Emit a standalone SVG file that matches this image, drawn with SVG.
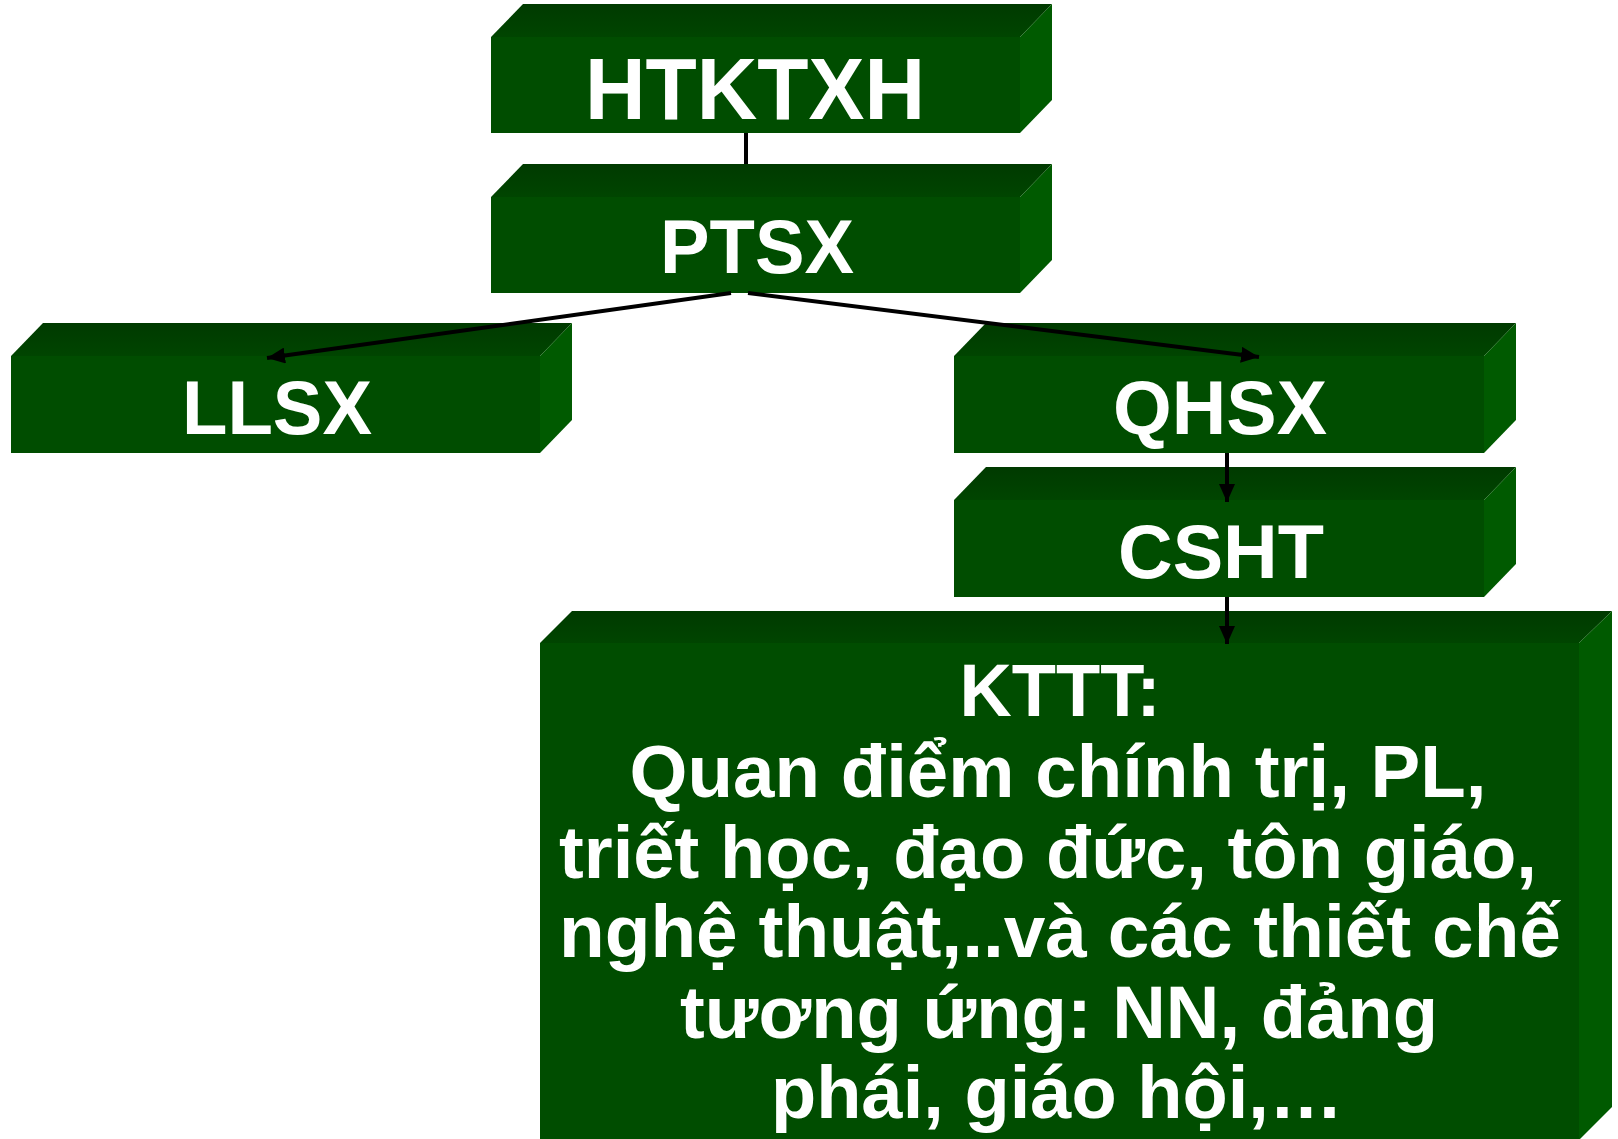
<svg xmlns="http://www.w3.org/2000/svg" width="1618" height="1139" viewBox="0 0 1618 1139">
  <defs>
    <linearGradient id="topFace" x1="0" y1="0" x2="0" y2="1">
      <stop offset="0" stop-color="#003a00"/>
      <stop offset="1" stop-color="#004500"/>
    </linearGradient>
    <marker id="arrow" markerUnits="userSpaceOnUse" markerWidth="18" markerHeight="16" refX="18" refY="8" orient="auto">
      <path d="M0,0 L18,8 L0,16 z" fill="#000"/>
    </marker>
  </defs>
  <style>
    .front { fill: #004d00; }
    .top { fill: url(#topFace); }
    .side { fill: #005a00; }
    .label { font-family: "Liberation Sans", Arial, sans-serif; font-weight: bold; fill: #fff; text-anchor: middle; }
    .big { font-size: 88px; }
    .mid { font-size: 76px; }
    .body { font-size: 75px; }
    .link { stroke: #000; stroke-width: 4; fill: none; }
  </style>

  <rect width="1618" height="1139" fill="#fff"/>

  <!-- HTKTXH -->
  <g id="node-htktxh">
    <polygon class="top" points="491,37 523,4 1052,4 1020,37"/>
    <polygon class="side" points="1020,37 1052,4 1052,100 1020,133"/>
    <rect class="front" x="491" y="37" width="529" height="96"/>
    <text class="label big" x="755" y="119" textLength="340" lengthAdjust="spacingAndGlyphs">HTKTXH</text>
  </g>

  <!-- PTSX -->
  <g id="node-ptsx">
    <polygon class="top" points="491,197 523,164 1052,164 1020,197"/>
    <polygon class="side" points="1020,197 1052,164 1052,260 1020,293"/>
    <rect class="front" x="491" y="197" width="529" height="96"/>
    <text class="label mid" x="757" y="273" textLength="194" lengthAdjust="spacingAndGlyphs">PTSX</text>
  </g>

  <!-- LLSX -->
  <g id="node-llsx">
    <polygon class="top" points="11,356 43,323 572,323 540,356"/>
    <polygon class="side" points="540,356 572,323 572,420 540,453"/>
    <rect class="front" x="11" y="356" width="529" height="97"/>
    <text class="label mid" x="277" y="434" textLength="190" lengthAdjust="spacingAndGlyphs">LLSX</text>
  </g>

  <!-- QHSX -->
  <g id="node-qhsx">
    <polygon class="top" points="954,356 986,323 1516,323 1484,356"/>
    <polygon class="side" points="1484,356 1516,323 1516,420 1484,453"/>
    <rect class="front" x="954" y="356" width="530" height="97"/>
    <text class="label mid" x="1220" y="434" textLength="214" lengthAdjust="spacingAndGlyphs">QHSX</text>
  </g>

  <!-- CSHT -->
  <g id="node-csht">
    <polygon class="top" points="954,500 986,467 1516,467 1484,500"/>
    <polygon class="side" points="1484,500 1516,467 1516,564 1484,597"/>
    <rect class="front" x="954" y="500" width="530" height="97"/>
    <text class="label mid" x="1221" y="578" textLength="206" lengthAdjust="spacingAndGlyphs">CSHT</text>
  </g>

  <!-- KTTT -->
  <g id="node-kttt">
    <polygon class="top" points="540,643 572,611 1612,611 1579,643"/>
    <polygon class="side" points="1579,643 1612,611 1612,1107 1579,1140"/>
    <rect class="front" x="540" y="643" width="1039" height="497"/>
    <text class="label body" x="1060" y="716" textLength="201" lengthAdjust="spacingAndGlyphs">KTTT:</text>
    <text class="label body" x="1058" y="797" textLength="857" lengthAdjust="spacingAndGlyphs">Quan điểm chính trị, PL,</text>
    <text class="label body" x="1048" y="878" textLength="978" lengthAdjust="spacingAndGlyphs">triết học, đạo đức, tôn giáo,</text>
    <text class="label body" x="1060" y="957" textLength="1002" lengthAdjust="spacingAndGlyphs">nghệ thuật,..và các thiết chế</text>
    <text class="label body" x="1059" y="1038" textLength="758" lengthAdjust="spacingAndGlyphs">tương ứng: NN, đảng</text>
    <text class="label body" x="1057" y="1118" textLength="572" lengthAdjust="spacingAndGlyphs">phái, giáo hội,…</text>
  </g>

  <!-- connectors -->
  <g id="connectors">
    <line class="link" x1="746" y1="133" x2="746" y2="164"/>
    <line class="link" x1="731" y1="293" x2="267" y2="358" marker-end="url(#arrow)"/>
    <line class="link" x1="748" y1="293" x2="1259" y2="357" marker-end="url(#arrow)"/>
    <line class="link" x1="1227" y1="453" x2="1227" y2="502" marker-end="url(#arrow)"/>
    <line class="link" x1="1227" y1="597" x2="1227" y2="644" marker-end="url(#arrow)"/>
  </g>
</svg>
